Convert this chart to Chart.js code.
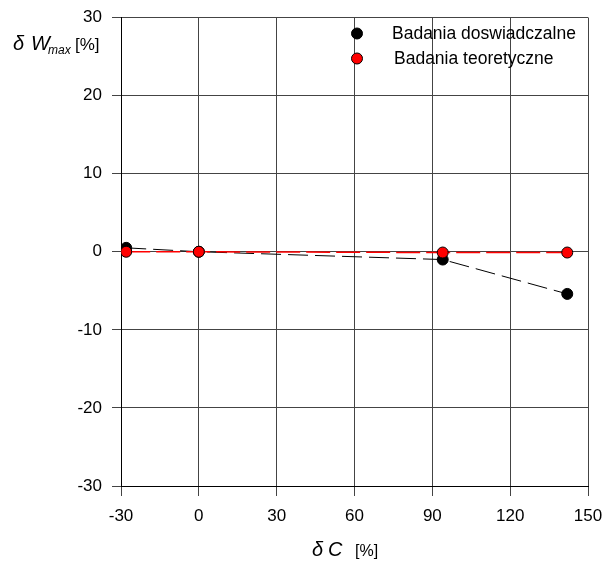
<!DOCTYPE html>
<html>
<head>
<meta charset="utf-8">
<script src="https://cdn.jsdelivr.net/npm/chart.js@4/dist/chart.umd.min.js"></script>
<style>
  html, body { margin: 0; padding: 0; background: #fff; }
  #wrap { width: 604px; height: 562px; }
</style>
</head>
<body>
<div id="wrap"><canvas id="chart" width="604" height="562"></canvas></div>
<script>
// values
const dcValues = [-28, 0, 94, 142];
const doswiadczalne = [0.5, 0, -1.0, -5.4];
const teoretyczne = [0, 0, -0.1, -0.1];
const seriesNames = ['Badania doswiadczalne', 'Badania teoretyczne'];
const xTicks = [-30, 0, 30, 60, 90, 120, 150];
const yTicks = [-30, -20, -10, 0, 10, 20, 30];

const FONT = "'Liberation Sans', Arial, sans-serif";

function toPoints(xs, ys) {
  return xs.map((x, i) => ({ x: x, y: ys[i] }));
}

// axis titles and legend, drawn in the style of the original
const extras = {
  id: 'extras',
  afterDraw(chart) {
    const ctx = chart.ctx;
    const area = chart.chartArea;
    ctx.save();
    ctx.fillStyle = '#000';
    ctx.textBaseline = 'alphabetic';

    // y title
    ctx.font = 'italic 20px ' + FONT;
    ctx.fillText('\u03b4', 13, 50);
    ctx.fillText('W', 31, 50);
    ctx.font = 'italic 12px ' + FONT;
    ctx.fillText('max', 48, 54);
    ctx.font = '17px ' + FONT;
    ctx.fillText('[%]', 75, 50);

    // x title
    ctx.font = 'italic 20px ' + FONT;
    ctx.fillText('\u03b4', 312, 556);
    ctx.fillText('C', 328, 556);
    ctx.font = '16px ' + FONT;
    ctx.fillText('[%]', 355, 556);

    // legend
    const colors = ['#000', '#ff0000'];
    seriesNames.forEach((name, i) => {
      const cy = area.top + 16 + i * 25;
      ctx.beginPath();
      ctx.arc(357, cy, 5.5, 0, Math.PI * 2);
      ctx.fillStyle = colors[i];
      ctx.fill();
      ctx.strokeStyle = '#000';
      ctx.lineWidth = 1;
      ctx.stroke();
      ctx.fillStyle = '#000';
      ctx.font = '17.5px ' + FONT;
      ctx.textBaseline = 'middle';
      ctx.fillText(name, i ? 394 : 392, cy + 1);
    });
    ctx.restore();
  }
};

new Chart(document.getElementById('chart'), {
  type: 'scatter',
  data: {
    datasets: [
      {
        label: seriesNames[1],
        data: toPoints(dcValues, teoretyczne),
        showLine: true,
        borderColor: '#ff0000',
        borderWidth: 1.5,
        borderDash: [24, 6],
        pointBackgroundColor: '#ff0000',
        pointBorderColor: '#000',
        pointBorderWidth: 1,
        pointRadius: 5.5,
        order: 2
      },
      {
        label: seriesNames[0],
        data: toPoints(dcValues, doswiadczalne),
        showLine: true,
        borderColor: '#000',
        borderWidth: 1,
        borderDash: [20, 7],
        pointBackgroundColor: '#000',
        pointBorderColor: '#000',
        pointBorderWidth: 1,
        pointRadius: 5.5,
        order: 3
      }
    ]
  },
  options: {
    responsive: false,
    animation: false,
    layout: { padding: { top: 17.5, right: 16, left: 0, bottom: 0 } },
    plugins: {
      legend: { display: false },
      tooltip: { enabled: false }
    },
    scales: {
      x: {
        type: 'linear',
        min: -30,
        max: 150,
        afterBuildTicks(scale) {
          scale.ticks = xTicks.map(v => ({ value: v }));
        },
        afterFit(scale) {
          scale.height = 76;
          scale.paddingLeft = 0;
          scale.paddingRight = 0;
        },
        grid: {
          color: '#444',
          lineWidth: 1,
          tickLength: 10,
          drawTicks: true
        },
        border: { display: true, color: '#000', width: 1 },
        ticks: {
          color: '#000',
          padding: 10,
          maxRotation: 0,
          font: { family: FONT, size: 17 }
        }
      },
      y: {
        type: 'linear',
        min: -30,
        max: 30,
        afterBuildTicks(scale) {
          scale.ticks = yTicks.map(v => ({ value: v }));
        },
        afterFit(scale) {
          scale.width = 121;
          scale.paddingTop = 0;
          scale.paddingBottom = 0;
        },
        grid: {
          color: '#444',
          lineWidth: 1,
          tickLength: 9,
          drawTicks: true
        },
        border: { display: true, color: '#000', width: 1 },
        ticks: {
          color: '#000',
          padding: 10,
          font: { family: FONT, size: 17 }
        }
      }
    }
  },
  plugins: [extras]
});
</script>
</body>
</html>
